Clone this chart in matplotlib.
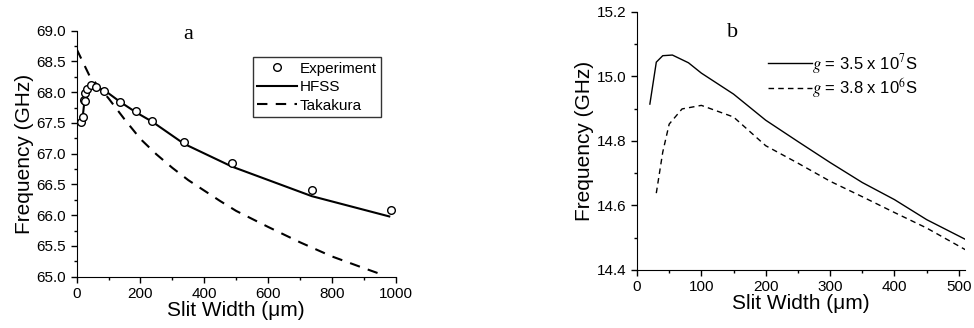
import matplotlib
matplotlib.use("Agg")
import matplotlib.pyplot as plt
import matplotlib.ticker as pltticker

plt.rcParams["font.family"] = ["Liberation Sans", "DejaVu Sans"]
plt.rcParams["mathtext.fontset"] = "stix"

# panel a
exp_x = [15, 20, 22, 25, 27, 33, 45, 62, 87, 137, 187, 237, 337, 487, 737, 987]
exp_y = [67.52, 67.60, 67.87, 67.86, 67.98, 68.06, 68.11, 68.08, 68.02, 67.84, 67.69, 67.53, 67.19, 66.85, 66.41, 66.08]

hfss_x = [15, 20, 25, 30, 40, 50, 60, 90, 137, 187, 237, 337, 487, 737, 980]
hfss_y = [67.55, 67.65, 67.88, 68.00, 68.07, 68.09, 68.08, 68.02, 67.84, 67.67, 67.52, 67.16, 66.79, 66.31, 65.98]

tak_x = [0, 40, 100, 150, 200, 250, 300, 350, 400, 450, 500, 600, 700, 800, 900, 965]
tak_y = [68.70, 68.27, 67.90, 67.56, 67.24, 66.99, 66.77, 66.57, 66.40, 66.23, 66.07, 65.81, 65.56, 65.33, 65.14, 65.02]

# panel b
s1_x = [20, 30, 40, 55, 80, 100, 150, 200, 250, 300, 350, 400, 450, 510]
s1_y = [14.914, 15.044, 15.064, 15.066, 15.042, 15.010, 14.945, 14.864, 14.798, 14.733, 14.671, 14.618, 14.556, 14.495]

s2_x = [30, 40, 50, 70, 100, 150, 200, 250, 300, 350, 400, 450, 510]
s2_y = [14.638, 14.765, 14.852, 14.899, 14.910, 14.874, 14.785, 14.731, 14.675, 14.627, 14.578, 14.530, 14.463]

fig = plt.figure(figsize=(9.74, 3.28), dpi=100)

#-------------------------------------------
ax = fig.add_axes([0.0787, 0.1564, 0.3275, 0.75])
ax.set_xlim(0, 1000)
ax.set_ylim(65.0, 69.0)
ax.set_xlabel("Slit Width (\u03bcm)", fontsize=15, labelpad=0)
ax.set_ylabel("Frequency (GHz)", fontsize=15, labelpad=2)

ax.xaxis.set_major_locator(pltticker.MultipleLocator(200))
ax.xaxis.set_minor_locator(pltticker.MultipleLocator(100))
ax.yaxis.set_major_locator(pltticker.MultipleLocator(0.5))
ax.yaxis.set_minor_locator(pltticker.MultipleLocator(0.25))
ax.yaxis.set_major_formatter(pltticker.FormatStrFormatter("%.1f"))

ax.plot(exp_x, exp_y, "o", mfc="white", mec="black", ms=5.5, mew=1.0, label="Experiment", zorder=3)
ax.plot(hfss_x, hfss_y, color="black", linewidth=1.5, label="HFSS")
ax.plot(tak_x, tak_y, color="black", linewidth=1.5, linestyle=(0, (5, 4)), label="Takakura")

leg = ax.legend(loc="upper right", bbox_to_anchor=(0.954, 0.893), borderaxespad=0,
                fontsize=11, frameon=True, fancybox=False, edgecolor="black",
                handlelength=2.6, handletextpad=0.15, borderpad=0.3, labelspacing=0.3)
leg.get_frame().set_linewidth(1.0)

ax.text(0.35, 0.985, "a", transform=ax.transAxes, ha="center", va="center",
        fontsize=16, family="Liberation Serif")

#-------------------------------------------
ax = fig.add_axes([0.654, 0.177, 0.337, 0.787])
ax.set_xlim(0, 510)
ax.set_ylim(14.4, 15.2)
ax.set_xlabel("Slit Width (\u03bcm)", fontsize=15, labelpad=0)
ax.set_ylabel("Frequency (GHz)", fontsize=15, labelpad=2)

ax.xaxis.set_major_locator(pltticker.MultipleLocator(100))
ax.xaxis.set_minor_locator(pltticker.MultipleLocator(50))
ax.yaxis.set_major_locator(pltticker.MultipleLocator(0.2))
ax.yaxis.set_minor_locator(pltticker.MultipleLocator(0.1))
ax.yaxis.set_major_formatter(pltticker.FormatStrFormatter("%.1f"))

ax.plot(s1_x, s1_y, color="black", linewidth=1.0, label=r"$g$ = 3.5 x 10$^{7}$S")
ax.plot(s2_x, s2_y, color="black", linewidth=1.0, linestyle=(0, (4, 3)), label=r"$g$ = 3.8 x 10$^{6}$S")

ax.legend(loc="upper left", bbox_to_anchor=(0.40, 0.845), borderaxespad=0,
          fontsize=12, frameon=False, handlelength=2.6, handletextpad=0.05,
          borderpad=0, labelspacing=0.0)

ax.text(0.29, 0.92, "b", transform=ax.transAxes, ha="center", va="center",
        fontsize=16, family="Liberation Serif")

for a in fig.axes:
    a.spines["top"].set_visible(False)
    a.spines["right"].set_visible(False)
    a.tick_params(which="both", direction="out", labelsize=11, width=1.0)
    a.tick_params(which="major", length=4)
    a.tick_params(which="minor", length=2.5)

fig.savefig("out.png", dpi=100)
